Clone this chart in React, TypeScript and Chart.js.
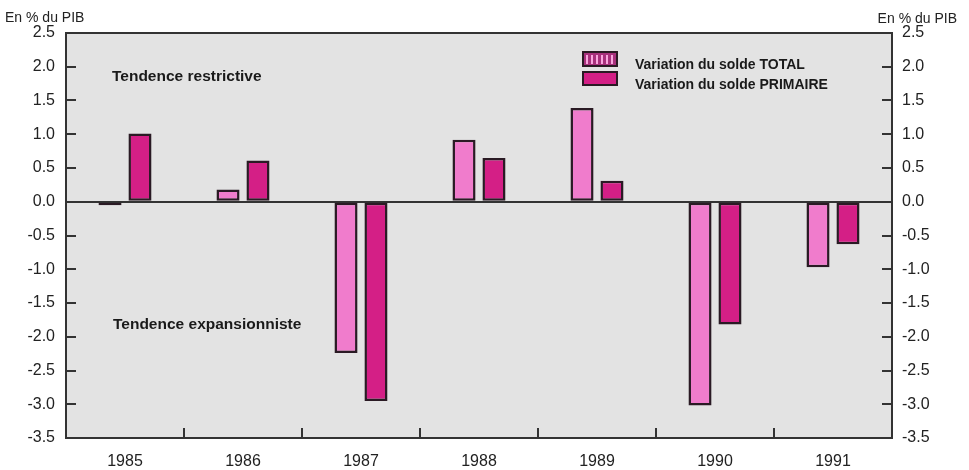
import React, { useEffect, useRef } from "react";
import { Chart, registerables } from "chart.js";

Chart.register(...registerables);

const years = ["1985", "1986", "1987", "1988", "1989", "1990", "1991"];
const soldeTotal = [-0.05, 0.18, -2.24, 0.92, 1.39, -3.02, -0.97];
const soldePrimaire = [1.01, 0.61, -2.95, 0.65, 0.31, -1.82, -0.63];
const yMin = -3.5;
const yMax = 2.5;
const yStep = 0.5;
const unitLabel = "En % du PIB";
const legendLabels = ["Variation du solde TOTAL", "Variation du solde PRIMAIRE"];
const annotationTop = "Tendence restrictive";
const annotationBottom = "Tendence expansionniste";

const colTotal = "#f07ccc";
const colPrimaire = "#d41f86";
const colBorder = "#2a1a24";
const FONT = "'Liberation Sans', Arial, Helvetica, sans-serif";

const decorPlugin = {
  id: "decor",
  beforeDraw(chart: any) {
    const { ctx, chartArea: a } = chart;
    ctx.save();
    ctx.fillStyle = "#ffffff";
    ctx.fillRect(0, 0, chart.width, chart.height);
    ctx.fillStyle = "#e3e3e3";
    ctx.fillRect(a.left, a.top, a.right - a.left, a.bottom - a.top);
    ctx.restore();
  },
  afterDraw(chart: any) {
    const { ctx, chartArea: a } = chart;
    const y = chart.scales.y;
    const x = chart.scales.x;
    ctx.save();
    ctx.strokeStyle = "#333333";
    ctx.lineWidth = 2;
    // inward ticks on y
    y.ticks.forEach((t: any) => {
      const py = Math.round(y.getPixelForValue(t.value));
      ctx.beginPath();
      ctx.moveTo(a.left, py);
      ctx.lineTo(a.left + 10, py);
      ctx.moveTo(a.right - 10, py);
      ctx.lineTo(a.right, py);
      ctx.stroke();
    });
    // inward ticks on x at category boundaries
    for (let i = 0; i < years.length - 1; i++) {
      const px = Math.round((x.getPixelForValue(i) + x.getPixelForValue(i + 1)) / 2);
      ctx.beginPath();
      ctx.moveTo(px, a.bottom);
      ctx.lineTo(px, a.bottom - 10);
      ctx.stroke();
    }
    ctx.strokeRect(a.left, a.top, a.right - a.left, a.bottom - a.top);

    // unit labels
    ctx.fillStyle = "#222222";
    ctx.font = `14px ${FONT}`;
    ctx.textBaseline = "alphabetic";
    ctx.textAlign = "left";
    ctx.fillText(unitLabel, 5, 22);
    ctx.textAlign = "right";
    ctx.fillText(unitLabel, 957, 23);

    // annotations
    ctx.font = `bold 15.5px ${FONT}`;
    ctx.textAlign = "left";
    ctx.fillStyle = "#1a1a1a";
    ctx.fillText(annotationTop, 112, 81);
    ctx.fillText(annotationBottom, 113, 329);

    // legend
    const bx = 583, bw = 34;
    ctx.fillStyle = "#a8307c";
    ctx.fillRect(bx, 52, bw, 14);
    ctx.fillStyle = "#f8a6de";
    for (let sx = bx + 3; sx < bx + bw - 2; sx += 5) {
      ctx.fillRect(sx, 55, 2, 9);
    }
    ctx.strokeStyle = colBorder;
    ctx.lineWidth = 2;
    ctx.strokeRect(bx, 52, bw, 14);
    ctx.fillStyle = colPrimaire;
    ctx.fillRect(bx, 72, bw, 13);
    ctx.strokeRect(bx, 72, bw, 13);
    ctx.fillStyle = "#1a1a1a";
    ctx.font = `bold 14px ${FONT}`;
    ctx.fillText(legendLabels[0], 635, 68.5);
    ctx.fillText(legendLabels[1], 635, 89);
    ctx.restore();
  },
};

export default function App() {
  const ref = useRef<HTMLCanvasElement>(null);
  useEffect(() => {
    if (!ref.current) return;
    const tickFont = { family: FONT, size: 16 };
    const chart = new Chart(ref.current, {
      type: "bar",
      data: {
        labels: years,
        datasets: [
          {
            label: legendLabels[0],
            data: soldeTotal,
            backgroundColor: colTotal,
            borderColor: colBorder,
            borderWidth: 2.5,
            borderSkipped: false,
            categoryPercentage: 0.508,
            barPercentage: 0.77,
          },
          {
            label: legendLabels[1],
            data: soldePrimaire,
            backgroundColor: colPrimaire,
            borderColor: colBorder,
            borderWidth: 2.5,
            borderSkipped: false,
            categoryPercentage: 0.508,
            barPercentage: 0.77,
          },
        ],
      },
      options: {
        responsive: false,
        animation: false,
        devicePixelRatio: 1,
        layout: { padding: { top: 33, left: 0, right: 0, bottom: 0 } },
        plugins: { legend: { display: false }, tooltip: { enabled: false } },
        scales: {
          x: {
            type: "category",
            border: { display: false },
            grid: { display: false, offset: true },
            ticks: { color: "#222", font: tickFont, padding: 6, maxRotation: 0, autoSkip: false },
            afterFit: (s: any) => { s.height = 32; },
          },
          y: {
            position: "left",
            min: yMin,
            max: yMax,
            border: { display: false },
            grid: {
              drawTicks: false,
              drawOnChartArea: true,
              color: (c: any) => (c.tick && Math.abs(c.tick.value) < 1e-9 ? "#333333" : "rgba(0,0,0,0)"),
              lineWidth: 2,
            },
            ticks: {
              stepSize: yStep,
              color: "#222",
              font: tickFont,
              padding: 11,
              callback: (v: any) => Number(v).toFixed(1),
            },
            afterFit: (s: any) => { s.width = 66; },
          },
          y2: {
            position: "right",
            min: yMin,
            max: yMax,
            border: { display: false },
            grid: { display: false, drawTicks: false },
            ticks: {
              stepSize: yStep,
              color: "#222",
              font: tickFont,
              padding: 10,
              callback: (v: any) => Number(v).toFixed(1),
            },
            afterFit: (s: any) => { s.width = 77; },
          },
        },
      },
      plugins: [decorPlugin],
    } as any);
    return () => chart.destroy();
  }, []);
  return (
    <div style={{ position: "fixed", left: 0, top: 0, width: 969, height: 470 }}>
      <canvas ref={ref} width={969} height={470} style={{ display: "block" }} />
    </div>
  );
}
